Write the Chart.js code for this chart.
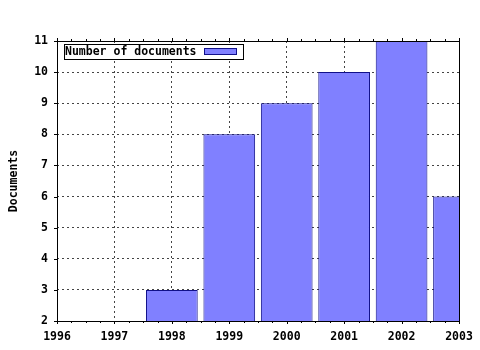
<!DOCTYPE html>
<html>
<head>
<meta charset="utf-8">
<script src="https://cdn.jsdelivr.net/npm/chart.js@4"></script>
<style>
  html,body{margin:0;background:#fff}
  #wrap{width:480px;height:350px}
</style>
</head>
<body>
<div id="wrap"><canvas id="c"></canvas></div>
<script>
'use strict';

/* ── data ── */
const years=[1996,1997,1998,1999,2000,2001,2002,2003];
const docs=[null,null,3,8,9,10,11,6];
const yTicks=[2,3,4,5,6,7,8,9,10,11];
const seriesLabel='Number of documents';
const axisTitle='Documents';

const F={family:'"DejaVu Sans Mono", monospace',size:11.5,weight:'bold'};
const FILL='#8080ff', EDGE='#10108a';

/* frame, gnuplot style ticks and the boxed key */
const gnuFrame={
  id:'gnuFrame',
  afterDatasetsDraw(chart){
    const {ctx,chartArea:a,scales:{x,y}}=chart;
    const r=v=>Math.round(v)+0.5;
    ctx.save();
    ctx.strokeStyle='#000';ctx.lineWidth=1;
    ctx.strokeRect(r(a.left),r(a.top),Math.round(a.right)-Math.round(a.left),Math.round(a.bottom)-Math.round(a.top));
    ctx.beginPath();
    // x ticks: majors on years, minors on quarters
    for(let v=years[0];v<=years[years.length-1]+1e-6;v+=0.25){
      const px=r(x.getPixelForValue(v));
      const len=Number.isInteger(v)?3:2;
      ctx.moveTo(px,a.bottom);ctx.lineTo(px,a.bottom+len);
      ctx.moveTo(px,a.top);ctx.lineTo(px,a.top-len);
    }
    yTicks.forEach(v=>{
      const py=r(y.getPixelForValue(v));
      ctx.moveTo(a.left-3,py);ctx.lineTo(a.left,py);
    });
    ctx.stroke();

    // key
    ctx.font=`${F.weight} ${F.size}px ${F.family}`;
    const bx=Math.round(a.left)+7, by=Math.round(a.top)+3;
    const tw=ctx.measureText(seriesLabel).width;
    const sx=Math.round(bx+1+tw+7), sw=32;
    const bw=sx+sw+7-bx, bh=15;
    ctx.fillStyle='#fff';ctx.fillRect(bx,by,bw,bh);
    ctx.strokeRect(bx+0.5,by+0.5,bw,bh);
    ctx.fillStyle='#000';ctx.textBaseline='middle';ctx.textAlign='left';
    ctx.fillText(seriesLabel,bx+1,by+bh/2+1);
    ctx.fillStyle=FILL;ctx.fillRect(sx,by+4,sw,6);
    ctx.strokeStyle=EDGE;ctx.strokeRect(sx+0.5,by+4.5,sw,6);
    ctx.restore();
  }
};

new Chart(document.getElementById('c'),{
  type:'bar',
  data:{
    datasets:[{
      label:seriesLabel,
      data:years.map((yr,i)=>({x:yr,y:docs[i]})),
      backgroundColor:FILL,
      borderColor:EDGE,
      borderWidth:1,
      borderSkipped:false,
      barPercentage:1,
      categoryPercentage:0.9,
      clip:0
    }]
  },
  options:{
    responsive:true,maintainAspectRatio:false,animation:false,
    layout:{padding:{top:41,right:21,left:0,bottom:0}},
    plugins:{legend:{display:false},tooltip:{enabled:false}},
    scales:{
      x:{
        type:'linear',min:years[0],max:years[years.length-1],offset:false,
        afterBuildTicks:s=>{s.ticks=years.map(v=>({value:v}));},
        afterFit:s=>{s.height=29;s.paddingLeft=0;s.paddingRight=0;},
        grid:{offset:false,color:'#444',drawTicks:false},
        border:{display:false,dash:[2,3]},
        ticks:{font:F,color:'#000',padding:9,autoSkip:false,maxRotation:0,callback:v=>String(v)}
      },
      y:{
        min:yTicks[0],max:yTicks[yTicks.length-1],
        afterBuildTicks:s=>{s.ticks=yTicks.map(v=>({value:v}));},
        afterFit:s=>{s.width=57;s.paddingTop=0;s.paddingBottom=0;},
        grid:{color:'#444',drawTicks:false},
        border:{display:false,dash:[2,3]},
        ticks:{font:F,color:'#000',padding:9,callback:v=>String(v)},
        title:{display:true,text:axisTitle,font:F,color:'#000',padding:{top:7,bottom:0}}
      }
    }
  },
  plugins:[gnuFrame]
});
</script>
</body>
</html>
